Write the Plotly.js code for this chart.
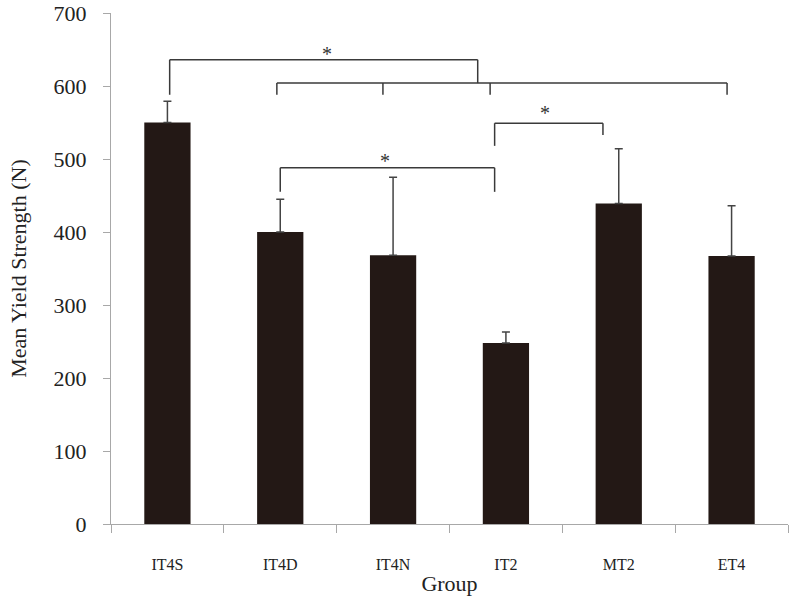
<!DOCTYPE html>
<html>
<head>
<meta charset="utf-8">
<script src="https://cdn.plot.ly/plotly-3.0.1.min.js"></script>
<style>html,body{margin:0;padding:0;background:#fff;}#chart{width:792px;height:601px;}</style>
</head>
<body>
<div id="chart"></div>
<script>
// ---- data ----
const categories = ["IT4S", "IT4D", "IT4N", "IT2", "MT2", "ET4"];
const meanYield = [550, 400, 368, 248, 439, 367];
const errorPlus = [29, 45, 107, 15, 75, 69];
const yTickVals = [0, 100, 200, 300, 400, 500, 600, 700];

// significance brackets: [xLeft, xRight, yTop, yLeftEnd, yRightEnd] (x as category index)
const bracketSpans = [
  [0.02, 2.75, 636, 588, 604],
  [0.97, 4.96, 604, 588, 588],
  [2.90, 3.86, 549, 518, 533],
  [1.00, 2.90, 488, 455, 455]
];
// extra drop ticks on the long bracket: [x, yTop, yBottom]
const bracketTicks = [[1.91, 604, 588], [2.86, 604, 588]];
// stars: [x, y]
const starPos = [[1.41, 644], [3.35, 563], [1.93, 497]];

const serif = '"Liberation Serif", "Times New Roman", serif';
const lineCol = '#3a3a3a';

const shapes = [];
bracketSpans.forEach(b => {
  shapes.push({type:'line', xref:'x', yref:'y', x0:b[0], x1:b[1], y0:b[2], y1:b[2], line:{color:lineCol, width:1.5}});
  shapes.push({type:'line', xref:'x', yref:'y', x0:b[0], x1:b[0], y0:b[2], y1:b[3], line:{color:lineCol, width:1.5}});
  shapes.push({type:'line', xref:'x', yref:'y', x0:b[1], x1:b[1], y0:b[2], y1:b[4], line:{color:lineCol, width:1.5}});
});
bracketTicks.forEach(t => {
  shapes.push({type:'line', xref:'x', yref:'y', x0:t[0], x1:t[0], y0:t[1], y1:t[2], line:{color:lineCol, width:1.5}});
});

const annotations = starPos.map(s => ({
  x: s[0], y: s[1], xref:'x', yref:'y', text:'*', showarrow:false,
  font:{family:serif, size:20, color:'#333'}, xanchor:'center', yanchor:'middle'
}));

const trace = {
  type:'bar',
  x: categories,
  y: meanYield,
  marker:{color:'#231815', line:{width:0}},
  error_y:{type:'data', array:errorPlus, arrayminus:errorPlus.map(()=>0), symmetric:false,
           color:'#444', thickness:1.5, width:4},
  hoverinfo:'none'
};

const layout = {
  width:792, height:601,
  margin:{l:111, r:4, t:13, b:77},
  paper_bgcolor:'#fff', plot_bgcolor:'#fff',
  showlegend:false,
  bargap:0.59,
  font:{family:serif, color:'#222'},
  xaxis:{
    type:'category', range:[-0.5, 5.5],
    showline:true, linecolor:'#a8a8a8', linewidth:1,
    ticks:'outside', tickson:'boundaries', ticklen:8, tickcolor:'#a8a8a8',
    tickfont:{family:serif, size:16, color:'#222'},
    ticklabelstandoff:26,
    showgrid:false, zeroline:false,
    title:{text:'Group', font:{family:serif, size:22, color:'#222'}, standoff:3}
  },
  yaxis:{
    range:[0, 700], tickvals:yTickVals,
    showline:true, linecolor:'#a8a8a8', linewidth:1,
    ticks:'outside', ticklen:7, tickcolor:'#a8a8a8',
    tickfont:{family:serif, size:22, color:'#222'},
    ticklabelstandoff:12,
    showgrid:false, zeroline:false,
    title:{text:'Mean Yield Strength (N)', font:{family:serif, size:22, color:'#222'}, standoff:20}
  },
  shapes: shapes,
  annotations: annotations
};

Plotly.newPlot('chart', [trace], layout, {staticPlot:true, displayModeBar:false});
</script>
</body>
</html>
